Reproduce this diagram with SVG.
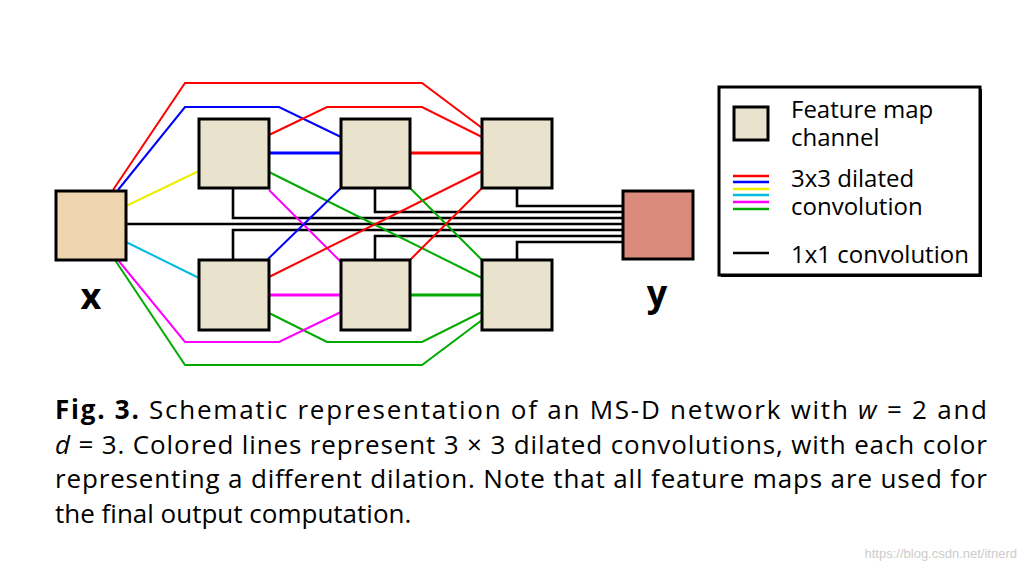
<svg xmlns="http://www.w3.org/2000/svg" width="1027" height="573" viewBox="0 0 1027 573">
<style>
.n{fill:#e9e2cc;stroke:#000;stroke-width:3}
.c{fill:none;stroke-width:2}
.h{fill:none;stroke-width:3}
.k{fill:none;stroke:#000;stroke-width:2.6}
.r{stroke:#f00}.b{stroke:#00f}.yl{stroke:#ee0}.cy{stroke:#0bd}.m{stroke:#f0f}.g{stroke:#0a0}
.t{font-family:"Open Sans","DejaVu Sans",sans-serif;font-size:24px;fill:#000}
.cap{font-family:"Open Sans","DejaVu Sans",sans-serif;font-size:26px;fill:#000}
.lab{font-family:"Open Sans","DejaVu Sans",sans-serif;font-size:36px;font-weight:bold}
</style>
<rect width="1027" height="573" fill="#fff"/>
<g id="connectors">
<polyline class="k" points="126,224 623,224"/>
<polyline class="k" points="233,188 233,218 623,218"/>
<polyline class="k" points="375,188 375,212 623,212"/>
<polyline class="k" points="517,188 517,206 623,206"/>
<polyline class="k" points="233,260 233,230 623,230"/>
<polyline class="k" points="375,260 375,236 623,236"/>
<polyline class="k" points="517,260 517,242 623,242"/>
<polyline class="c r" points="113,190 185,83 422,83 482,128"/>
<polyline class="c b" points="118,190 185,107 279,107 341,137"/>
<polyline class="c r" points="269,135 327,107 422,107 482,137"/>
<polyline class="c yl" points="126,206 199,171"/>
<polyline class="c cy" points="126,242 199,278"/>
<polyline class="c g" points="269,172 482,278"/>
<polyline class="c m" points="269,190 341,262"/>
<polyline class="c b" points="268,259 341,188"/>
<polyline class="c r" points="269,277 482,171"/>
<polyline class="c g" points="269,313 327,342 422,342 482,312"/>
<polyline class="c m" points="118,260 185,342 279,342 341,312"/>
<polyline class="c g" points="115,260 185,365 422,365 482,320"/>
<polyline class="c g" points="410,188 482,260"/>
<polyline class="c r" points="410,260 482,188"/>
<polyline class="h b" points="269,153 341,153"/>
<polyline class="h r" points="410,153 482,153"/>
<polyline class="h m" points="269,295 341,295"/>
<polyline class="h g" points="410,295 482,295"/>
</g>
<g id="x"><rect x="56" y="191" width="70" height="69" fill="#eed5b0" stroke="#000" stroke-width="3"/><text class="lab" x="91" y="309" text-anchor="middle">x</text></g>
<g id="y"><rect x="623" y="191" width="70" height="68" fill="#db8b7b" stroke="#000" stroke-width="3"/><text class="lab" x="657" y="306" text-anchor="middle">y</text></g>
<g id="n1"><rect class="n" x="199" y="119" width="70" height="69"/></g>
<g id="n2"><rect class="n" x="199" y="260" width="70" height="70"/></g>
<g id="n3"><rect class="n" x="341" y="119" width="69" height="69"/></g>
<g id="n4"><rect class="n" x="341" y="260" width="69" height="70"/></g>
<g id="n5"><rect class="n" x="482" y="119" width="70" height="69"/></g>
<g id="n6"><rect class="n" x="482" y="260" width="70" height="70"/></g>
<g id="legend">
<rect x="721" y="89" width="261" height="188" fill="#000"/>
<rect x="719" y="87" width="261" height="188" fill="#fff" stroke="#000" stroke-width="3"/>
<rect class="n" x="734" y="107" width="34" height="33"/>
<text class="t" x="791" y="118">Feature map</text>
<text class="t" x="791" y="146">channel</text>
<g stroke-width="2.5"><line class="r" x1="733" y1="176" x2="769" y2="176"/><line class="b" x1="733" y1="182" x2="769" y2="182"/><line class="yl" x1="733" y1="189" x2="769" y2="189"/><line class="cy" x1="733" y1="195" x2="769" y2="195"/><line class="m" x1="733" y1="202" x2="769" y2="202"/><line class="g" x1="733" y1="209" x2="769" y2="209"/></g>
<text class="t" x="791" y="187">3x3 dilated</text>
<text class="t" x="791" y="215">convolution</text>
<line x1="733" y1="253" x2="769" y2="253" stroke="#000" stroke-width="2.5"/>
<text class="t" x="791" y="263">1x1 convolution</text>
</g>
<g id="caption">
<text class="cap" x="55" y="419" textLength="932" lengthAdjust="spacing"><tspan font-weight="bold">Fig. 3.</tspan>   Schematic representation of an MS-D network with <tspan font-style="italic">w</tspan> = 2 and</text>
<text class="cap" x="55" y="454" textLength="932" lengthAdjust="spacing"><tspan font-style="italic">d</tspan> = 3. Colored lines represent 3 × 3 dilated convolutions, with each color</text>
<text class="cap" x="55" y="488" textLength="932" lengthAdjust="spacing">representing a different dilation. Note that all feature maps are used for</text>
<text class="cap" x="55" y="523">the final output computation.</text>
<text x="1017" y="558" text-anchor="end" font-family="Liberation Sans,sans-serif" font-size="13" fill="#ccc">https://blog.csdn.net/itnerd</text>
</g>
</svg>
